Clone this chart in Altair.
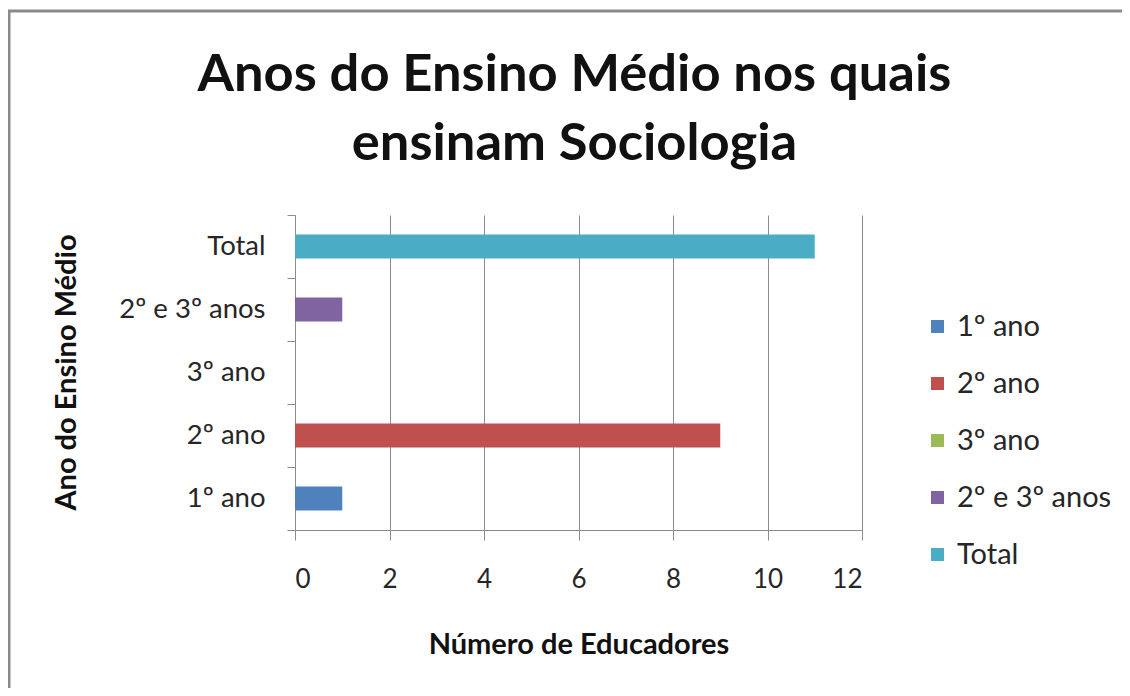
import altair as alt
import pandas as pd

categories = ["1º ano", "2º ano", "3º ano", "2º e 3º anos", "Total"]
values = [1, 9, 0, 1, 11]
colors = ["#4F81BD", "#C0504D", "#9BBB59", "#8064A2", "#4BACC6"]
x_ticks = [0, 2, 4, 6, 8, 10, 12]
title_text = "Anos do Ensino Médio nos quais\nensinam Sociologia"

df = pd.DataFrame({"Ano": categories, "Educadores": values})

FONT = "Lato"
TXT = "#262626"

bars = alt.Chart(df).mark_bar(size=24).encode(
    x=alt.X("Educadores:Q",
            scale=alt.Scale(domain=[0, 12], nice=False),
            axis=alt.Axis(values=x_ticks, title="Número de Educadores",
                          grid=True, gridColor="#8c8c8c", gridWidth=1,
                          domainColor="#8c8c8c", tickColor="#8c8c8c",
                          tickSize=10, labelPadding=26, labelFontSize=26,
                          labelColor=TXT, labelFont=FONT,
                          titleFont=FONT, titleFontSize=29, titleFontWeight="bold",
                          titleColor="#111111", titlePadding=38)),
    y=alt.Y("Ano:N", sort=categories[::-1],
            scale=alt.Scale(paddingInner=0, paddingOuter=0),
            axis=alt.Axis(title="Ano do Ensino Médio", tickBand="extent",
                          grid=False, domainColor="#8c8c8c", tickColor="#8c8c8c",
                          tickSize=8, labelPadding=22, labelFontSize=27.5,
                          labelColor=TXT, labelFont=FONT,
                          titleFont=FONT, titleFontSize=29, titleFontWeight="bold",
                          titleColor="#111111", titleX=-214, titleY=157)),
    color=alt.Color("Ano:N", sort=categories,
                    scale=alt.Scale(domain=categories, range=colors),
                    legend=alt.Legend(title=None, orient="none", legendX=628, legendY=97,
                                      symbolType="square", symbolSize=169,
                                      symbolStrokeWidth=0, labelFontSize=29,
                                      labelFont=FONT, labelColor=TXT,
                                      rowPadding=27, labelOffset=5)),
)

border = alt.Chart(pd.DataFrame({"a": [0]})).mark_rect(
    fill=None, stroke="#8a8a8a", strokeWidth=3
).encode(
    x=alt.value(-286), x2=alt.value(900),
    y=alt.value(-204), y2=alt.value(600),
)

title = alt.Chart(pd.DataFrame({"t": [title_text]})).mark_text(
    font=FONT, fontSize=52.5, fontWeight="bold", color="#111111",
    align="center", baseline="alphabetic", lineBreak="\n", lineHeight=69,
).encode(
    text="t:N",
    x=alt.value(279.5), y=alt.value(-124),
)

chart = alt.layer(border, title, bars).properties(
    width=567, height=315,
    autosize=alt.AutoSizeParams(type="none"),
    padding={"left": 287, "top": 207, "right": 260, "bottom": 158},
).configure_view(stroke=None)

chart.save("out.html", embed_options={"renderer": "svg", "actions": False})
